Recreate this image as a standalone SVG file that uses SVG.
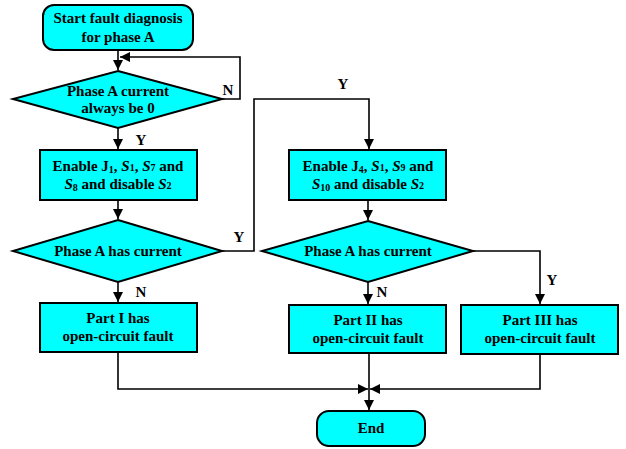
<svg xmlns="http://www.w3.org/2000/svg" width="626" height="449" viewBox="0 0 626 449">
<style>
.n{fill:#00FFFF;stroke:#000;stroke-width:2}
.t{font-family:"Liberation Serif","Times New Roman",serif;font-weight:bold;font-size:15px;fill:#000;text-anchor:middle}
.l{font-family:"Liberation Serif","Times New Roman",serif;font-weight:bold;font-size:15px;fill:#000;text-anchor:middle}
.c{fill:none;stroke:#000;stroke-width:1.6}
.s{font-size:10px;font-style:normal}
.i{font-style:italic}
</style>
<defs>
<marker id="a" markerUnits="userSpaceOnUse" markerWidth="10" markerHeight="10" viewBox="0 0 10 10" refX="10" refY="5" orient="auto">
<path d="M0,0 L10,5 L0,10 z" fill="#000"/>
</marker>
</defs>
<g id="connectors">
<path class="c" d="M118,50 V70" marker-end="url(#a)"/>
<path class="c" d="M222,99 H240 V57 H120" marker-end="url(#a)"/>
<path class="c" d="M118,128 V149" marker-end="url(#a)"/>
<path class="c" d="M118,200 V219" marker-end="url(#a)"/>
<path class="c" d="M118,282 V302" marker-end="url(#a)"/>
<path class="c" d="M222,251 H254 V99 H369 V149" marker-end="url(#a)"/>
<path class="c" d="M368,200 V220" marker-end="url(#a)"/>
<path class="c" d="M368,282 V304" marker-end="url(#a)"/>
<path class="c" d="M473,251 H540 V304" marker-end="url(#a)"/>
<path class="c" d="M118,352 V389 H368" marker-end="url(#a)"/>
<path class="c" d="M540,354 V389 H370" marker-end="url(#a)"/>
<path class="c" d="M369,353 V410" marker-end="url(#a)"/>
<text class="l" x="228" y="95">N</text>
<text class="l" x="141" y="145">Y</text>
<text class="l" x="239" y="242">Y</text>
<text class="l" x="141" y="297">N</text>
<text class="l" x="343" y="89">Y</text>
<text class="l" x="382" y="297">N</text>
<text class="l" x="552" y="285">Y</text>
</g>
<g id="start">
<rect class="n" x="43" y="5" width="150" height="45" rx="11"/>
<text class="t" x="118" y="23">Start fault diagnosis</text>
<text class="t" x="118" y="42">for phase A</text>
</g>
<g id="d1">
<polygon class="n" points="118,71 222,99 118,128 13,99"/>
<text class="t" x="118" y="96">Phase A current</text>
<text class="t" x="118" y="113">always be 0</text>
</g>
<g id="b1">
<rect class="n" x="40" y="150" width="157" height="50"/>
<text class="t" x="118" y="171">Enable J<tspan class="s" dy="2">1</tspan><tspan dy="-2">, </tspan><tspan class="i">S</tspan><tspan class="s">1</tspan>, <tspan class="i">S</tspan><tspan class="s">7</tspan> and</text>
<text class="t" x="118" y="189"><tspan class="i">S</tspan><tspan class="s" dy="2">8</tspan><tspan dy="-2"> and disable </tspan><tspan class="i">S</tspan><tspan class="s">2</tspan></text>
</g>
<g id="d2">
<polygon class="n" points="118,220 222,251 118,282 13,251"/>
<text class="t" x="118" y="256">Phase A has current</text>
</g>
<g id="b2">
<rect class="n" x="289" y="150" width="157" height="50"/>
<text class="t" x="368" y="171">Enable J<tspan class="s" dy="2">4</tspan><tspan dy="-2">, </tspan><tspan class="i">S</tspan><tspan class="s">1</tspan>, <tspan class="i">S</tspan><tspan class="s">9</tspan> and</text>
<text class="t" x="368" y="189"><tspan class="i">S</tspan><tspan class="s" dy="2">10</tspan><tspan dy="-2"> and disable </tspan><tspan class="i">S</tspan><tspan class="s">2</tspan></text>
</g>
<g id="d3">
<polygon class="n" points="368,221 473,251 368,282 262,251"/>
<text class="t" x="368" y="256">Phase A has current</text>
</g>
<g id="p1">
<rect class="n" x="40" y="303" width="157" height="49"/>
<text class="t" x="118" y="323">Part I has</text>
<text class="t" x="118" y="341">open-circuit fault</text>
</g>
<g id="p2">
<rect class="n" x="289" y="305" width="157" height="48"/>
<text class="t" x="368" y="325">Part II has</text>
<text class="t" x="368" y="343">open-circuit fault</text>
</g>
<g id="p3">
<rect class="n" x="461" y="305" width="157" height="49"/>
<text class="t" x="540" y="325">Part III has</text>
<text class="t" x="540" y="343">open-circuit fault</text>
</g>
<g id="end">
<rect class="n" x="317" y="411" width="108" height="35" rx="12"/>
<text class="t" x="371" y="433">End</text>
</g>
</svg>
